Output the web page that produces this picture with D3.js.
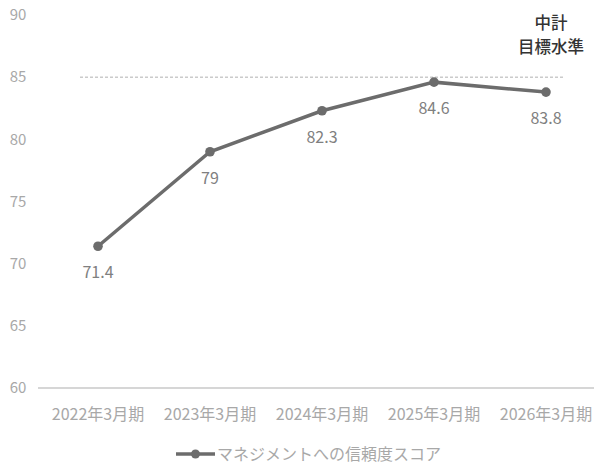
<html>
  <head>
    <script src="https://cdnjs.cloudflare.com/ajax/libs/d3/7.8.5/d3.min.js"></script>
  </head>
  <body style="margin:0;background:#fff;">
    <div id="chart"></div>
    <script>

// D A T A

      let periods = ["2022年3月期","2023年3月期","2024年3月期","2025年3月期","2026年3月期"]
      let scores = [71.4, 79, 82.3, 84.6, 83.8]
      let labels = ["71.4","79","82.3","84.6","83.8"]
      let yTicks = [60, 65, 70, 75, 80, 85, 90]
      let target = 85
      let seriesName = "マネジメントへの信頼度スコア"
      let targetText = ["中計","目標水準"]

// C H A R T

      let W = 594, H = 468
      let font = "'Noto Sans CJK JP', 'Noto Sans', sans-serif"
      let grey = "#6c6c6c"

      let svg = d3.select("#chart").append("svg")
        .attr("width", W).attr("height", H)
        .style("font-family", font)

      let x = d3.scaleBand()
        .domain(periods)
        .range([42, 602])

      let y = d3.scaleLinear()
        .domain([60, 90])
        .range([388, 15])

      let cx = d => x(d) + x.bandwidth()/2

      // y tick labels
      svg.append("g")
        .selectAll("text")
        .data(yTicks)
        .enter().append("text")
          .attr("x", 18)
          .attr("y", d => y(d))
          .attr("dy", "0.35em")
          .attr("text-anchor", "middle")
          .attr("font-size", 15)
          .attr("fill", "#a8a8a8")
          .text(d => d)

      // baseline
      svg.append("line")
        .attr("x1", 38).attr("x2", W)
        .attr("y1", y(60)).attr("y2", y(60))
        .attr("stroke", "#c8c8c8").attr("stroke-width", 1.5)

      // x labels
      svg.append("g")
        .selectAll("text")
        .data(periods)
        .enter().append("text")
          .attr("x", d => cx(d))
          .attr("y", 414)
          .attr("dy", "0.35em")
          .attr("text-anchor", "middle")
          .attr("font-size", 16)
          .attr("fill", "#a8a8a8")
          .text(d => d)

      // target line
      svg.append("line")
        .attr("x1", 80).attr("x2", 565)
        .attr("y1", y(target)).attr("y2", y(target))
        .attr("stroke", "#b0b0b0").attr("stroke-width", 1)
        .attr("stroke-dasharray", "3,2")

      svg.append("g")
        .selectAll("text")
        .data(targetText)
        .enter().append("text")
          .attr("x", 551)
          .attr("y", (d,i) => 23.5 + i*24)
          .attr("dy", "0.35em")
          .attr("text-anchor", "middle")
          .attr("font-size", 16.5)
          .attr("font-weight", 500)
          .attr("fill", "#333")
          .text(d => d)

      // series
      let line = d3.line()
        .x((d,i) => cx(periods[i]))
        .y(d => y(d))

      svg.append("path")
        .datum(scores)
        .attr("d", line)
        .attr("fill", "none")
        .attr("stroke", grey)
        .attr("stroke-width", 3.5)

      svg.append("g")
        .selectAll("circle")
        .data(scores)
        .enter().append("circle")
          .attr("cx", (d,i) => cx(periods[i]))
          .attr("cy", d => y(d))
          .attr("r", 4.8)
          .attr("fill", grey)

      svg.append("g")
        .selectAll("text")
        .data(scores)
        .enter().append("text")
          .attr("x", (d,i) => cx(periods[i]))
          .attr("y", d => y(d) + 26.5)
          .attr("dy", "0.35em")
          .attr("text-anchor", "middle")
          .attr("font-size", 16)
          .attr("fill", "#808080")
          .text((d,i) => labels[i])

      // legend
      let lg = svg.append("g").attr("transform", "translate(176,454)")
      lg.append("line")
        .attr("x1", 0).attr("x2", 39)
        .attr("stroke", grey).attr("stroke-width", 3.5)
      lg.append("circle")
        .attr("cx", 19.5).attr("r", 4.5)
        .attr("fill", grey)
      lg.append("text")
        .attr("x", 41)
        .attr("dy", "0.35em")
        .attr("font-size", 16)
        .attr("fill", "#a8a8a8")
        .text(seriesName)

    </script>
  </body>
</html>
